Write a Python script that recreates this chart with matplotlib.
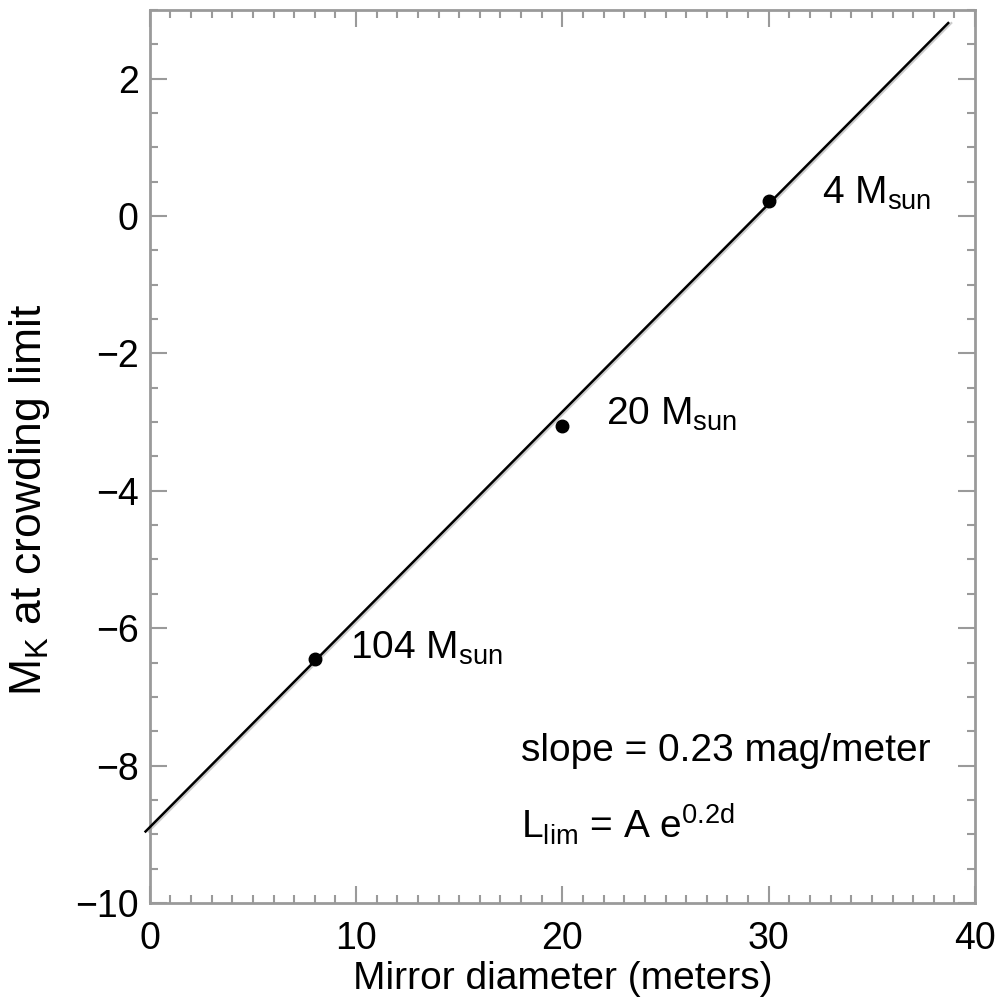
import numpy as np
import matplotlib
matplotlib.use("Agg")
import matplotlib.pyplot as plt

# --- Data ---
diam = [8, 20, 30]
mk_limit = [-6.45, -3.05, 0.22]
mass_labels = ["104", "20", "4"]
label_xy = [(9.7, -6.30), (22.1, -2.88), (32.6, 0.33)]

# fitted line endpoints (diameter, M_K)
fit_x = [-0.2, 38.7]
fit_y = [-8.96, 2.81]

plt.rcParams["font.family"] = ["Liberation Sans", "DejaVu Sans"]
plt.rcParams["mathtext.fontset"] = "custom"
plt.rcParams["mathtext.rm"] = "Liberation Sans"
plt.rcParams["mathtext.it"] = "Liberation Sans"

gray = "#9a9a9a"
fs_tick = 27
fs_text = 28

fig = plt.figure(figsize=(9.98, 10.01), dpi=100)
ax = fig.add_axes([0.150, 0.098, 0.827, 0.892])

# faint shadow line + black fit line
ax.plot(np.array(fit_x) + 0.15, fit_y, color="#cccccc", lw=1.5, clip_on=False, zorder=2)
ax.plot(fit_x, fit_y, color="black", lw=1.8, clip_on=False, zorder=3)
ax.plot(diam, mk_limit, "o", color="black", ms=9, zorder=4)

for lab, (tx, ty) in zip(mass_labels, label_xy):
    ax.text(tx, ty, lab + r" M$_{\rm sun}$", fontsize=fs_text, va="center", ha="left")

ax.text(18.0, -7.79, "slope = 0.23 mag/meter", fontsize=fs_text, va="center", ha="left")
ax.text(18.0, -8.85, r"L$_{\rm lim}$ = A e$^{\rm 0.2d}$", fontsize=fs_text, va="center", ha="left")

ax.set_xlim(0, 40)
ax.set_ylim(-10, 3)
ax.set_xticks([0, 10, 20, 30, 40])
ax.set_yticks([-10, -8, -6, -4, -2, 0, 2])
ax.set_xticks(np.arange(0, 41, 1), minor=True)
ax.set_yticks(np.arange(-10, 3.01, 0.5), minor=True)

for s in ax.spines.values():
    s.set_color(gray)
    s.set_linewidth(2)
ax.tick_params(which="both", direction="in", top=True, right=True, color=gray, width=1.5,
               labelsize=fs_tick)
ax.tick_params(axis="x", pad=13)
ax.tick_params(axis="y", pad=8)
ax.tick_params(which="major", length=12)
ax.tick_params(which="minor", length=6)

ax.set_xlabel("Mirror diameter (meters)", fontsize=fs_text, labelpad=3)
ax.set_ylabel(r"M$_{\rm K}$ at crowding limit", fontsize=32)
ax.yaxis.set_label_coords(-0.118, 0.451)

fig.savefig("out.png", dpi=100)
